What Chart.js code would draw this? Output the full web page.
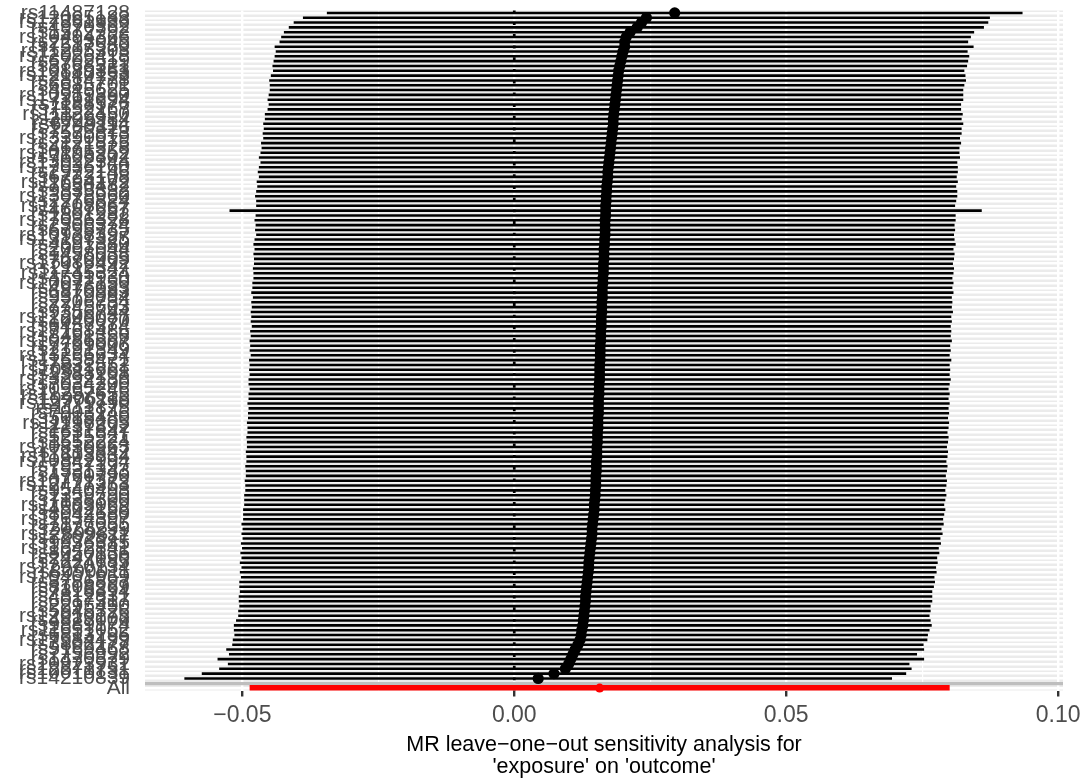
<!DOCTYPE html>
<html>
<head>
<meta charset="utf-8">
<script src="https://cdn.jsdelivr.net/npm/chart.js@4.4.1/dist/chart.umd.min.js"></script>
<style>
  html, body { margin: 0; padding: 0; background: #fff; }
  #wrap { width: 1089px; height: 780px; }
</style>
</head>
<body>
<div id="wrap"><canvas id="chart" width="1089" height="780"></canvas></div>
<script>
// leave-one-out results, top row first (sorted by estimate, largest on top)
const snps = [
  "rs11487128", "rs12065183", "rs17361936", "rs4970362", "rs1572792", "rs10494366", "rs2293045", "rs7517580", "rs11205303", "rs12026418",
  "rs6702619", "rs3768321", "rs10889353", "rs12140153", "rs2814778", "rs6685701", "rs4845625", "rs10919390", "rs17391694", "rs1188576",
  "rs7552167", "rs11122450", "rs3009984", "rs6749114", "rs1260326", "rs7575873", "rs13390019", "rs2121875", "rs4671328", "rs10195252",
  "rs7606302", "rs13022344", "rs17036160", "rs2972146", "rs6723108", "rs11694172", "rs7650482", "rs9835332", "rs13078960", "rs2276824",
  "rs11708067", "rs4687657", "rs1801282", "rs17036328", "rs2306374", "rs6795735", "rs10938397", "rs13107325", "rs4691380", "rs2007044",
  "rs1458038", "rs7670005", "rs17086492", "rs2112347", "rs11745324", "rs4591930", "rs10072150", "rs4976033", "rs6870983", "rs9379084",
  "rs2206734", "rs7745603", "rs9356744", "rs12206087", "rs1040070", "rs6457374", "rs17168486", "rs8491356", "rs10486567", "rs7799006",
  "rs2191349", "rs13266634", "rs11558471", "rs7832552", "rs10811661", "rs2383208", "rs13292136", "rs7034200", "rs10965246", "rs11257655",
  "rs10906115", "rs12779790", "rs1111875", "rs7903146", "rs5015480", "rs11196205", "rs2237892", "rs1631847", "rs5215921", "rs1552224",
  "rs10830963", "rs7119842", "rs11603334", "rs10842994", "rs7957197", "rs1531343", "rs4760790", "rs10771372", "rs12427353", "rs9540493",
  "rs1359790", "rs7138300", "rs11063069", "rs4502156", "rs8042680", "rs11634397", "rs7177055", "rs2028299", "rs12899811", "rs7202877",
  "rs9936385", "rs11642841", "rs8050136", "rs2447090", "rs7224685", "rs12970134", "rs8090011", "rs10401969", "rs3786897", "rs8108269",
  "rs7318394", "rs4812831", "rs6017317", "rs2295490", "rs5945326", "rs12010175", "rs4823006", "rs9889174", "rs11651052", "rs6813195",
  "rs17584499", "rs3802177", "rs5169468", "rs7756992", "rs1470579", "rs10923931", "rs12571751", "rs10010131", "rs14210839"
];

const est = [
  0.0295, 0.0243, 0.0234, 0.0226, 0.0213, 0.0206, 0.0203, 0.0203, 0.0200, 0.0198,
  0.0196, 0.0194, 0.0192, 0.0191, 0.0190, 0.0189, 0.0188, 0.0187, 0.0186, 0.0185,
  0.0184, 0.0183, 0.0182, 0.0182, 0.0181, 0.0180, 0.0179, 0.0178, 0.0177, 0.0176,
  0.0175, 0.0174, 0.0173, 0.0172, 0.0172, 0.0171, 0.0170, 0.0170, 0.0169, 0.0169,
  0.0168, 0.0168, 0.0168, 0.0167, 0.0167, 0.0167, 0.0167, 0.0166, 0.0166, 0.0165,
  0.0165, 0.0165, 0.0164, 0.0164, 0.0164, 0.0163, 0.0163, 0.0162, 0.0162, 0.0162,
  0.0161, 0.0161, 0.0161, 0.0160, 0.0160, 0.0160, 0.0159, 0.0159, 0.0159, 0.0158,
  0.0158, 0.0158, 0.0158, 0.0157, 0.0157, 0.0157, 0.0157, 0.0156, 0.0156, 0.0156,
  0.0155, 0.0155, 0.0155, 0.0155, 0.0154, 0.0154, 0.0154, 0.0153, 0.0153, 0.0153,
  0.0152, 0.0152, 0.0152, 0.0151, 0.0151, 0.0151, 0.0150, 0.0150, 0.0150, 0.0149,
  0.0149, 0.0148, 0.0147, 0.0147, 0.0146, 0.0145, 0.0144, 0.0143, 0.0143, 0.0142,
  0.0141, 0.0140, 0.0139, 0.0138, 0.0137, 0.0137, 0.0136, 0.0135, 0.0134, 0.0133,
  0.0132, 0.0131, 0.0131, 0.0130, 0.0129, 0.0128, 0.0127, 0.0126, 0.0124, 0.0123,
  0.0121, 0.0117, 0.0112, 0.0108, 0.0104, 0.0100, 0.0094, 0.0073, 0.0044
];

const lower = [
  -0.0344, -0.0388, -0.0405, -0.0414, -0.0423, -0.0428, -0.0431, -0.0440, -0.0438, -0.0440,
  -0.0442, -0.0444, -0.0443, -0.0447, -0.0450, -0.0449, -0.0449, -0.0451, -0.0453, -0.0451,
  -0.0453, -0.0458, -0.0458, -0.0461, -0.0460, -0.0462, -0.0461, -0.0465, -0.0464, -0.0466,
  -0.0469, -0.0466, -0.0469, -0.0471, -0.0469, -0.0473, -0.0472, -0.0474, -0.0476, -0.0474,
  -0.0474, -0.0523, -0.0475, -0.0477, -0.0475, -0.0476, -0.0474, -0.0477, -0.0479, -0.0477,
  -0.0479, -0.0478, -0.0478, -0.0480, -0.0479, -0.0479, -0.0481, -0.0481, -0.0483, -0.0480,
  -0.0483, -0.0482, -0.0484, -0.0483, -0.0484, -0.0482, -0.0485, -0.0484, -0.0486, -0.0485,
  -0.0486, -0.0484, -0.0487, -0.0486, -0.0487, -0.0486, -0.0488, -0.0488, -0.0486, -0.0488,
  -0.0488, -0.0490, -0.0488, -0.0489, -0.0489, -0.0491, -0.0490, -0.0490, -0.0492, -0.0491,
  -0.0491, -0.0493, -0.0492, -0.0492, -0.0494, -0.0493, -0.0493, -0.0495, -0.0494, -0.0494,
  -0.0496, -0.0496, -0.0496, -0.0498, -0.0498, -0.0498, -0.0501, -0.0499, -0.0501, -0.0499,
  -0.0502, -0.0500, -0.0503, -0.0501, -0.0504, -0.0501, -0.0504, -0.0502, -0.0505, -0.0505,
  -0.0504, -0.0506, -0.0506, -0.0505, -0.0507, -0.0507, -0.0511, -0.0515, -0.0515, -0.0514,
  -0.0517, -0.0518, -0.0529, -0.0524, -0.0545, -0.0526, -0.0542, -0.0574, -0.0606
];

const upper = [
  0.0934, 0.0874, 0.0871, 0.0863, 0.0845, 0.0839, 0.0834, 0.0844, 0.0833, 0.0836,
  0.0834, 0.0832, 0.0827, 0.0829, 0.0830, 0.0827, 0.0825, 0.0825, 0.0825, 0.0821,
  0.0821, 0.0824, 0.0822, 0.0825, 0.0822, 0.0822, 0.0819, 0.0821, 0.0818, 0.0818,
  0.0819, 0.0814, 0.0815, 0.0815, 0.0813, 0.0815, 0.0812, 0.0814, 0.0814, 0.0812,
  0.0810, 0.0859, 0.0811, 0.0811, 0.0809, 0.0810, 0.0808, 0.0809, 0.0811, 0.0807,
  0.0809, 0.0808, 0.0806, 0.0808, 0.0807, 0.0805, 0.0807, 0.0805, 0.0807, 0.0804,
  0.0805, 0.0804, 0.0806, 0.0803, 0.0804, 0.0802, 0.0803, 0.0802, 0.0804, 0.0801,
  0.0802, 0.0800, 0.0803, 0.0800, 0.0801, 0.0800, 0.0802, 0.0800, 0.0798, 0.0800,
  0.0798, 0.0800, 0.0798, 0.0799, 0.0797, 0.0799, 0.0798, 0.0796, 0.0798, 0.0797,
  0.0795, 0.0797, 0.0796, 0.0794, 0.0796, 0.0795, 0.0793, 0.0795, 0.0794, 0.0792,
  0.0794, 0.0792, 0.0790, 0.0792, 0.0790, 0.0788, 0.0789, 0.0785, 0.0787, 0.0783,
  0.0784, 0.0780, 0.0781, 0.0777, 0.0778, 0.0775, 0.0776, 0.0772, 0.0773, 0.0771,
  0.0768, 0.0768, 0.0768, 0.0765, 0.0765, 0.0763, 0.0765, 0.0767, 0.0763, 0.0760,
  0.0759, 0.0752, 0.0753, 0.0740, 0.0753, 0.0726, 0.0730, 0.0720, 0.0694
];

// the "All" (all SNPs) estimate
const allEst = 0.0157;
const allLower = -0.0486;
const allUpper = 0.0800;

const xMajor = [-0.05, 0, 0.05, 0.10];
const xMinor = [-0.025, 0.025, 0.075];
const xTickLabels = ["\u22120.05", "0.00", "0.05", "0.10"];
const xTitle = ["MR leave\u2212one\u2212out sensitivity analysis for", "'exposure' on 'outcome'"];

const FONT = "'Liberation Sans', Arial, sans-serif";
const categories = [...snps, "", "All"];
const blankIdx = snps.length;

const isMajor = v => xMajor.some(m => Math.abs(m - v) < 1e-9);

const bgPlugin = {
  id: "panel",
  beforeDraw(chart) {
    const { ctx, chartArea: a } = chart;
    ctx.save();
    ctx.fillStyle = "#EBEBEB";
    ctx.fillRect(a.left, a.top, a.right - a.left, a.bottom - a.top);
    ctx.restore();
  },
  beforeDatasetsDraw(chart) {
    // dotted line at zero
    const { ctx, chartArea: a, scales } = chart;
    const x = scales.x.getPixelForValue(0);
    ctx.save();
    ctx.strokeStyle = "#000";
    ctx.lineWidth = 2.7;
    ctx.setLineDash([2.9, 8.8]);
    ctx.beginPath();
    ctx.moveTo(x, a.top);
    ctx.lineTo(x, a.bottom);
    ctx.stroke();
    ctx.restore();
  }
};

new Chart(document.getElementById("chart"), {
  type: "bar",
  data: {
    labels: categories,
    datasets: [
      {
        type: "line",
        indexAxis: "y",
        data: [...est, null, null],
        showLine: false,
        pointRadius: 5.6,
        pointBorderWidth: 0,
        pointBackgroundColor: "#000",
        borderColor: "#000",
        clip: 8,
        order: 1
      },
      {
        type: "line",
        indexAxis: "y",
        data: [...snps.map(() => null), null, allEst],
        showLine: false,
        pointRadius: 4.5,
        pointBorderWidth: 0,
        pointBackgroundColor: "#FF0000",
        borderColor: "#FF0000",
        order: 0
      },
      {
        data: [...snps.map((s, i) => [lower[i], upper[i]]), null, null],
        backgroundColor: "#000",
        barThickness: 1.9,
        grouped: false,
        order: 3
      },
      {
        data: [...snps.map(() => null), null, [allLower, allUpper]],
        backgroundColor: "#FF0000",
        barThickness: 5.5,
        grouped: false,
        order: 2
      }
    ]
  },
  options: {
    indexAxis: "y",
    responsive: false,
    animation: false,
    layout: { padding: { left: 0, right: 26, top: 10.5, bottom: 0 } },
    plugins: { legend: { display: false }, tooltip: { enabled: false } },
    scales: {
      y: {
        type: "category",
        offset: true,
        border: { display: false },
        grid: {
          offset: false,
          drawTicks: false,
          z: -1,
          color: c => (c.index === blankIdx ? "#BEBEBE" : "#FFFFFF"),
          lineWidth: c => (c.index === blankIdx ? 3.2 : 2.4)
        },
        ticks: {
          autoSkip: false,
          padding: 15,
          color: "#4D4D4D",
          font: { family: FONT, size: 21, lineHeight: 1 }
        },
        afterFit(scale) {
          scale.width = 145;
          scale.paddingTop = 0;
          scale.paddingBottom = 0;
        }
      },
      x: {
        type: "linear",
        min: -0.0679,
        max: 0.1009,
        border: { display: false },
        grid: {
          z: -2,
          color: "#FFFFFF",
          lineWidth: c => (c.tick && isMajor(c.tick.value) ? 2.4 : 1.2),
          drawTicks: true,
          tickLength: 6,
          tickWidth: 2.4,
          tickColor: c => (c.tick && isMajor(c.tick.value) ? "#333333" : "rgba(0,0,0,0)")
        },
        ticks: {
          autoSkip: false,
          maxRotation: 0,
          padding: 8,
          color: "#4D4D4D",
          font: { family: FONT, size: 23, lineHeight: 1 },
          callback: v => {
            const i = xMajor.findIndex(m => Math.abs(m - v) < 1e-9);
            return i >= 0 ? xTickLabels[i] : "";
          }
        },
        afterBuildTicks(scale) {
          scale.ticks = [...xMajor, ...xMinor].sort((a, b) => a - b).map(v => ({ value: v }));
        },
        title: {
          display: true,
          text: xTitle,
          color: "#000",
          padding: { top: 0, bottom: 2 },
          font: { family: FONT, size: 21.5, lineHeight: 1.03 }
        },
        afterFit(scale) {
          scale.height = 89.5;
          scale.paddingLeft = 0;
          scale.paddingRight = 0;
        }
      }
    }
  },
  plugins: [bgPlugin]
});
</script>
</body>
</html>
